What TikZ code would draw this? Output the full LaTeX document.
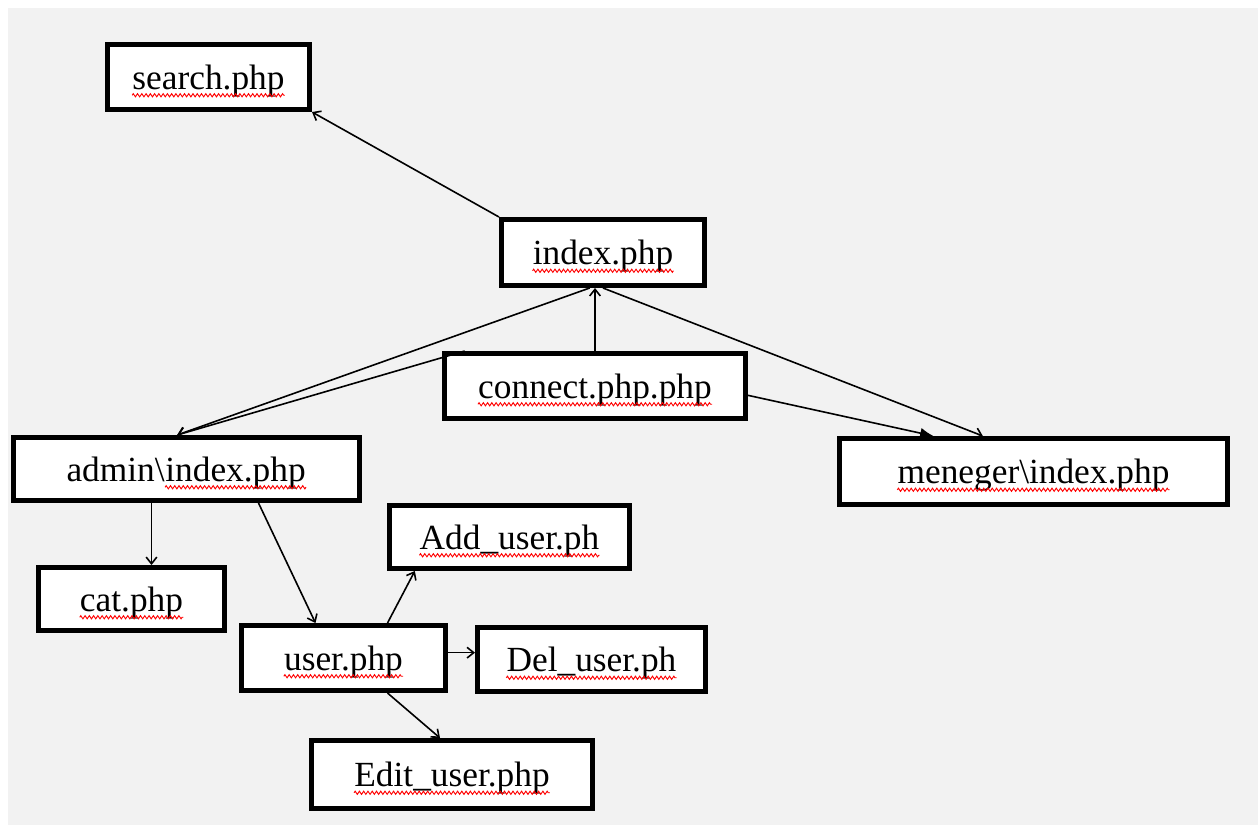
\documentclass[tikz,border=0pt]{standalone}
\usepackage{fontspec}
\setmainfont{Liberation Serif}
\usetikzlibrary{arrows.meta,decorations.pathmorphing}
% red spell-check wave under a word
\newcommand{\spell}[1]{\tikz[baseline=(w.base)]{\node[draw=none,fill=none,inner sep=0pt,minimum width=0pt,minimum height=0pt] (w) {#1};
  \draw[red,line width=0.7pt,decorate,decoration={zigzag,amplitude=1.2pt,segment length=3.2pt}] ([yshift=-4.5pt]w.base west) -- ([yshift=-4.5pt]w.base east);}}

\begin{document}
\begin{tikzpicture}[x=0.75pt,y=-0.75pt,>={Straight Barb[length=5pt,width=8pt]},
  box/.style={draw,line width=3.75pt,fill=white,inner sep=0pt,text depth=-8pt,font=\fontsize{26.5}{30}\selectfont},
  link/.style={line width=1.2pt,->}]
\useasboundingbox (0,0) rectangle (1258,825);
\fill[color=gray!10] (8,8) rectangle (1258,825);

\node[box,minimum width=151.5pt,minimum height=48.75pt] (srch) at (208.5,77) {\spell{search.php}};
\node[box,minimum width=152.25pt,minimum height=49.5pt] (idx) at (603,252.5) {\spell{index.php}};
\node[box,minimum width=225.75pt,minimum height=48.75pt] (cnt) at (595,386) {\spell{connect.php.php}};
\node[box,minimum width=259.5pt,minimum height=47.25pt] (adm) at (186.5,469) {admin\textbackslash\spell{index.php}};
\node[box,minimum width=291pt,minimum height=49.5pt] (mng) at (1033.5,471.5) {\spell{meneger\textbackslash index.php}};
\node[box,minimum width=139.5pt,minimum height=47.25pt] (cat) at (131.5,599) {\spell{cat.php}};
\node[box,minimum width=180pt,minimum height=47.25pt] (add) at (509.5,537) {\spell{Add\_user.ph}};
\node[box,minimum width=153pt,minimum height=48.75pt] (usr) at (343.5,658) {\spell{user.php}};
\node[box,minimum width=171pt,minimum height=48pt] (del) at (591.5,659.5) {\spell{Del\_user.ph}};
\node[box,minimum width=210.75pt,minimum height=51pt] (edit) at (452,774.5) {\spell{Edit\_user.php}};

\draw[link] (idx.north west) -- (srch.south east);
\draw[link] ([xshift=-10pt]idx.south) -- ([xshift=-7pt]adm.north);
\draw[link] ([xshift=17pt]cnt.north west) -- ([xshift=-7pt]adm.north);
\draw[link] (cnt.north) -- (cnt.north |- idx.south);
\draw[link] (idx.south) -- ([xshift=-38pt]mng.north);
\draw[line width=1.2pt,-{Latex[length=10pt,width=8pt]}] ([yshift=-7pt]cnt.east) -- ([xshift=-75pt]mng.north);
\draw[link] ([xshift=15pt]cat.north |- adm.south) -- ([xshift=15pt]cat.north);
\draw[link] ([xshift=54pt]adm.south) -- ([xshift=-21pt]usr.north);
\draw[link] ([xshift=33pt]usr.north) -- ([xshift=-71pt]add.south);
\draw[link] ([yshift=4pt]usr.east) -- ([yshift=4pt]usr.east -| del.west);
\draw[link] ([xshift=33pt]usr.south) -- ([xshift=-9pt]edit.north);
\end{tikzpicture}
\end{document}
